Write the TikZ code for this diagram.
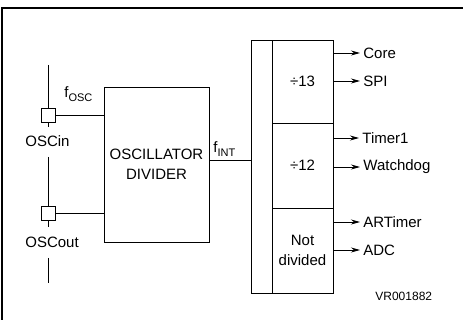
\documentclass[tikz,border=0pt]{standalone}
\usepackage{fontspec}
\setmainfont{Liberation Sans}
\usetikzlibrary{arrows.meta}
\begin{document}
\begin{tikzpicture}[x=1pt,y=-1pt,line width=0.8pt,
  lbl/.style={font=\fontsize{15}{19}\selectfont,inner sep=0pt},
  outlbl/.style={font=\fontsize{15}{19}\selectfont,inner sep=3pt,anchor=west},
  blk/.style={draw,inner sep=0pt,font=\fontsize{15}{20}\selectfont,align=center},
  pin/.style={draw,minimum size=14pt,inner sep=0pt},
  arr/.style={-{Stealth[length=9pt,width=5pt]}},
  frame/.style={line width=1.2pt}]
\useasboundingbox (0,0) rectangle (463,320);
% frame (top and left only)
\coordinate (fbl) at (2,320);
\coordinate (ftl) at (2,8);
\coordinate (ftr) at (463,8);
\draw[frame] (fbl) -- (ftl) -- (ftr);

% oscillator divider
\node[blk,minimum width=105pt,minimum height=155pt] (osc) at (156.5,164.5)
  {OSCILLATOR\\DIVIDER};

% pins
\node[pin] (pin1) at (48.5,115) {};
\node[pin] (pin2) at (48.5,213.5) {};
\coordinate (v0) at (48.5,65);
\coordinate (v1) at (48.5,127);
\coordinate (v2) at (48.5,157);
\coordinate (v3) at (48.5,227);
\coordinate (v4) at (48.5,258);
\coordinate (v5) at (48.5,283);
\draw (v0) -- (pin1.north);
\draw (pin1.south) -- (v1);
\draw (v2) -- (pin2.north);
\draw (pin2.south) -- (v3);
\draw (v4) -- (v5);
\node[lbl,anchor=west] (oscin) at (25,141) {OSCin};
\node[lbl,anchor=west] (oscout) at (25,242) {OSCout};
\draw (pin1.east) -- (pin1.east -| osc.west);
\draw (pin2.east) -- (pin2.east -| osc.west);
\node[anchor=base west,inner sep=0pt] (fosc) at (64,98)
  {\fontsize{15}{15}\selectfont f\raisebox{-4pt}{\fontsize{11}{11}\selectfont OSC}};

% right block
\node[draw,minimum width=21pt,minimum height=253pt,inner sep=0pt] (bar) at (261.5,166.5) {};
\node[blk,minimum width=61pt,minimum height=83pt] (c1) at (302.5,81.5) {÷13};
\node[blk,minimum width=61pt,minimum height=85pt] (c2) at (302.5,165.5) {÷12};
\node[blk,minimum width=61pt,minimum height=85pt] (c3) at (302.5,250.5) {Not\\divided};

% f_INT connection
\coordinate (fi) at (230,160);
\draw (osc.east |- fi) -- (bar.west |- fi);
\node[anchor=base west,inner sep=0pt] (fint) at (213,153)
  {\fontsize{15}{15}\selectfont f\raisebox{-4pt}{\fontsize{11}{11}\selectfont INT}};

% outputs
\node[outlbl] (core) at (360,53) {Core};
\node[outlbl] (spi) at (360,81) {SPI};
\node[outlbl] (timer) at (359,138) {Timer1};
\node[outlbl] (wdg) at (360,167) {Watchdog};
\node[outlbl] (art) at (360,222) {ARTimer};
\node[outlbl] (adc) at (360,250) {ADC};
\draw[arr] (c1.east |- core) -- (core.west);
\draw[arr] (c1.east |- spi) -- (spi.west);
\draw[arr] (c2.east |- timer) -- (timer.west);
\draw[arr] (c2.east |- wdg) -- (wdg.west);
\draw[arr] (c3.east |- art) -- (art.west);
\draw[arr] (c3.east |- adc) -- (adc.west);

\node[anchor=west,inner sep=0pt,font=\fontsize{12}{12}\selectfont] (vr) at (375,296) {VR001882};
\end{tikzpicture}
\end{document}
